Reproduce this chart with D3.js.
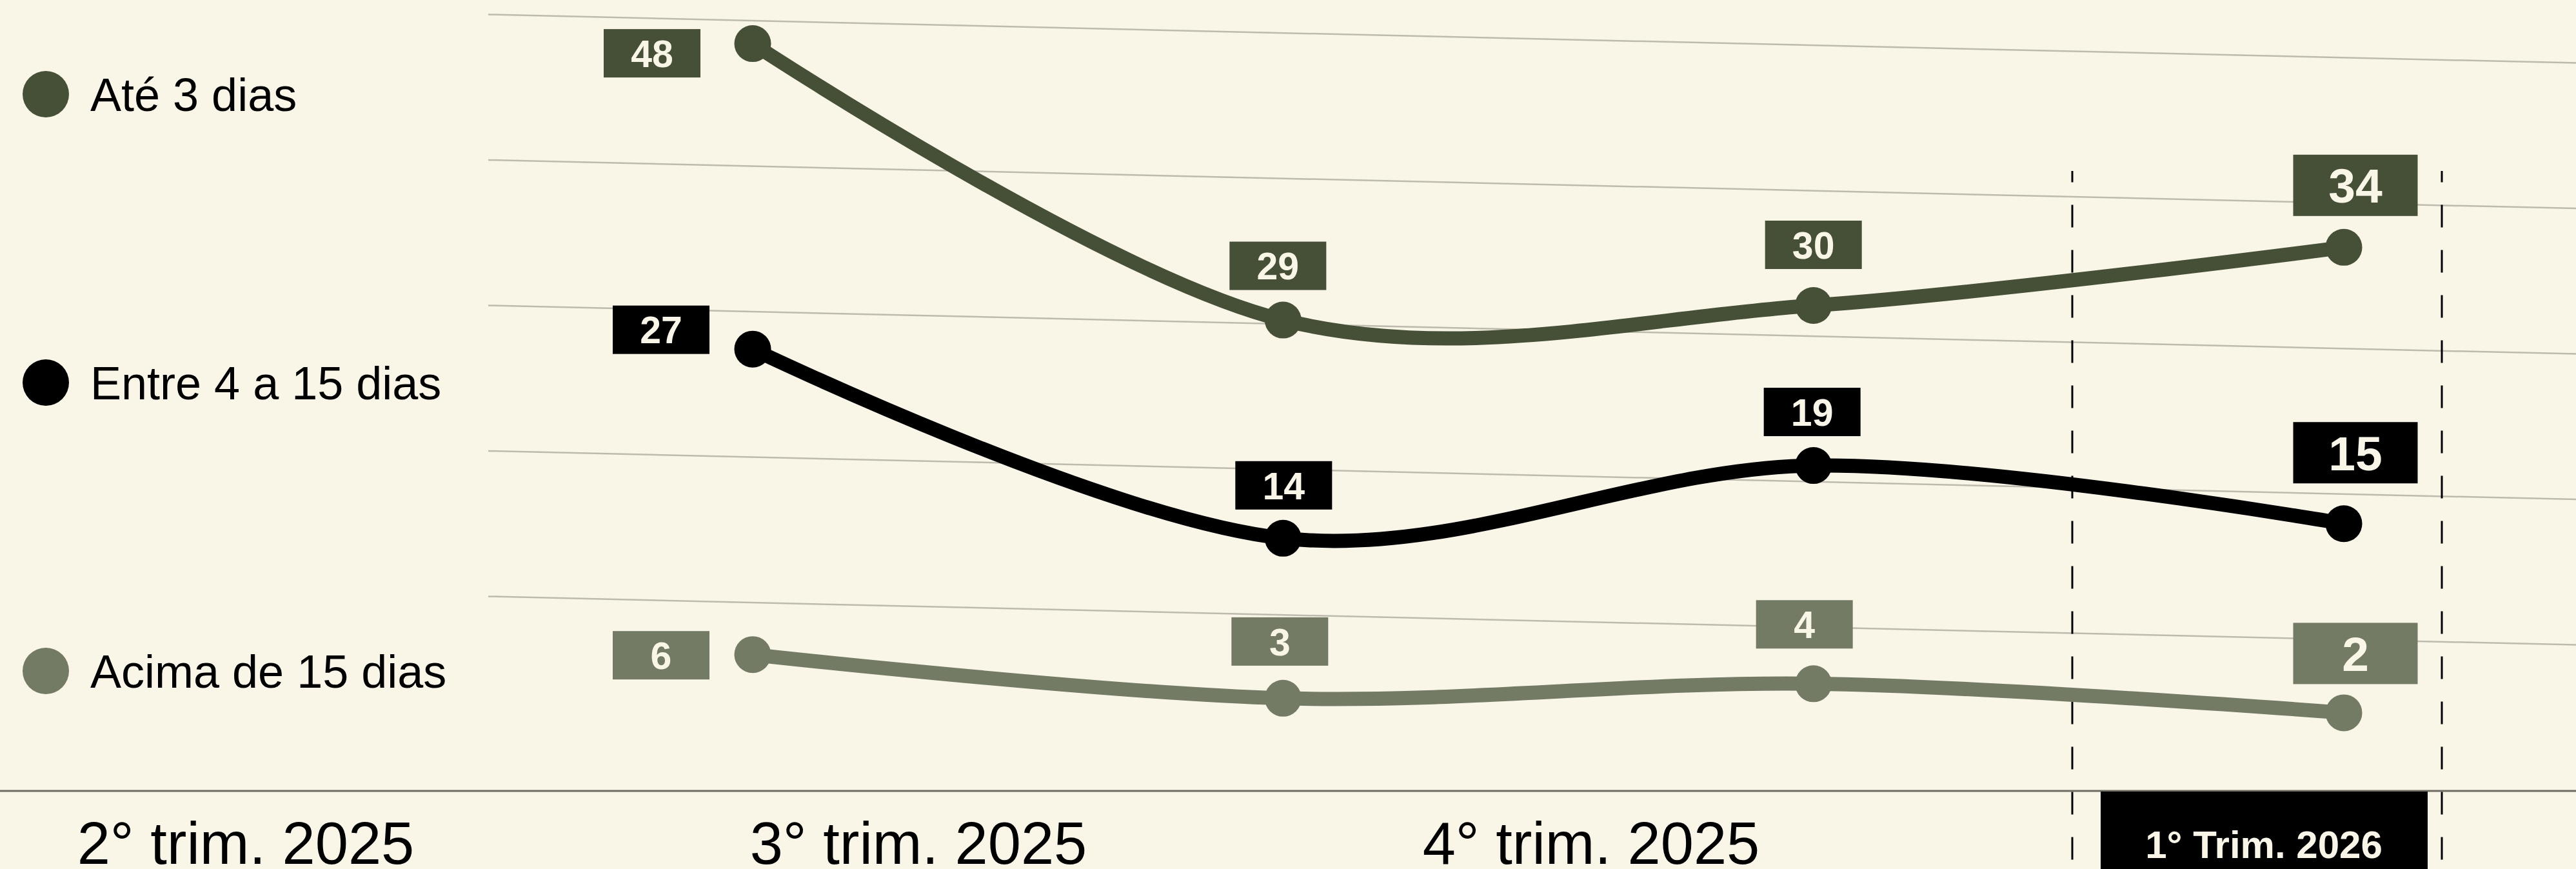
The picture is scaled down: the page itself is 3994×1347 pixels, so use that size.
<!DOCTYPE html>
<html lang="pt-BR">
<head>
    <meta charset="UTF-8">
    <title>Prazo por trimestre</title>
    <script src="https://d3js.org/d3.v7.min.js"></script>
    <style>
        body { margin: 0; background: #f9f6e8; }
        svg text { font-family: "Liberation Sans", Arial, sans-serif; }
    </style>
</head>
<body>
<svg id="main" width="3994" height="1347"></svg>
<script>
    // data
    const quarters = ['2° trim. 2025', '3° trim. 2025', '4° trim. 2025', '1° Trim. 2026'];
    const seriesNames = ['Até 3 dias', 'Entre 4 a 15 dias', 'Acima de 15 dias'];
    const ate3dias = [48, 29, 30, 34];
    const entre4a15 = [27, 14, 19, 15];
    const acima15 = [6, 3, 4, 2];
    const gridValues = [10, 20, 30, 40, 50];

    const colors = ['#465037', '#000000', '#737b65'];
    const bg = '#f9f6e8';

    // label nudges (box centre relative to the point), per series / column
    const labelDx = [[-156, -8, 0, 18], [-142, 1, -2, 18], [-142, -5, -14, 18]];
    const labelDy = [[15, -84, -94, -96], [-30, -82, -83, -110], [1, -88, -92, -92]];

    let svg = d3.select('svg#main');
    svg.append('rect').attr('width', 3994).attr('height', 1347).attr('fill', bg);

    let series = [ate3dias, entre4a15, acima15];

    //scales
    let x = d3.scaleLinear().domain([0, 3]).range([1167, 3634]);
    let xLabel = d3.scaleLinear().domain([0, 3]).range([381, 3510]);
    let y = d3.scaleLinear().domain([0, 50]).range([1150, 22.5]);
    let yLegend = d3.scalePoint().domain(seriesNames).range([146, 1040]);

    //slanted grid lines
    let gridX0 = 757, gridX1 = 3994, tilt = 0.0232;
    svg.append('g').selectAll('line')
        .data(gridValues)
        .enter().append('line')
        .attr('x1', gridX0)
        .attr('x2', gridX1)
        .attr('y1', d => y(d))
        .attr('y2', d => y(d) + tilt * (gridX1 - gridX0))
        .style('stroke', '#bdbaae')
        .style('stroke-width', '2.5px');

    // x axis line
    svg.append('line')
        .attr('x1', 0).attr('x2', 3994)
        .attr('y1', 1226).attr('y2', 1226)
        .style('stroke', '#6e6d62')
        .style('stroke-width', '3px');

    // highlighted last quarter (box + dashed band)
    let hx = xLabel(3);
    svg.append('rect')
        .attr('x', hx - 253).attr('y', 1227)
        .attr('width', 507).attr('height', 130)
        .attr('fill', '#000');
    [hx - 297, hx + 276].forEach(function (dx) {
        svg.append('line')
            .attr('x1', dx).attr('x2', dx)
            .attr('y1', 265).attr('y2', 1347)
            .style('stroke', '#000')
            .style('stroke-width', '3px')
            .style('stroke-dasharray', '35,35')
            .style('stroke-dashoffset', 17.5);
    });

    // x labels
    svg.append('g').selectAll('text')
        .data(quarters)
        .enter().append('text')
        .attr('x', (d, i) => xLabel(i))
        .attr('y', (d, i) => i === 3 ? 1330 : 1339)
        .attr('text-anchor', 'middle')
        .style('font-size', (d, i) => i === 3 ? '60px' : '92px')
        .style('font-weight', (d, i) => i === 3 ? 'bold' : 'normal')
        .style('fill', (d, i) => i === 3 ? bg : '#000')
        .text(d => d);

    //lines
    let line = d3.line()
        .x((d, i) => x(i))
        .y(d => y(d))
        .curve(d3.curveCardinal);

    let fig = svg.append('g');
    series.forEach(function (s, k) {
        fig.append('path')
            .attr('d', line(s))
            .style('fill', 'none')
            .style('stroke', colors[k])
            .style('stroke-width', '22px');
    });

    // points
    series.forEach(function (s, k) {
        fig.append('g').selectAll('circle')
            .data(s)
            .enter().append('circle')
            .attr('cx', (d, i) => x(i))
            .attr('cy', d => y(d))
            .attr('r', 28.5)
            .style('fill', colors[k]);
    });

    // value labels
    series.forEach(function (s, k) {
        let g = fig.append('g').selectAll('g')
            .data(s)
            .enter().append('g')
            .attr('transform', (d, i) => 'translate(' + (x(i) + labelDx[k][i]) + ',' + (y(d) + labelDy[k][i]) + ')');
        g.append('rect')
            .attr('x', (d, i) => i === 3 ? -96.5 : -75)
            .attr('y', (d, i) => i === 3 ? -47.5 : -37.5)
            .attr('width', (d, i) => i === 3 ? 193 : 150)
            .attr('height', (d, i) => i === 3 ? 95 : 75)
            .style('fill', colors[k]);
        g.append('text')
            .attr('text-anchor', 'middle')
            .attr('dy', '0.36em')
            .style('font-size', (d, i) => i === 3 ? '75px' : '59px')
            .style('font-weight', 'bold')
            .style('fill', bg)
            .text(d => d);
    });

    //legend
    let legend = svg.append('g').selectAll('g')
        .data(seriesNames)
        .enter().append('g')
        .attr('transform', d => 'translate(0,' + yLegend(d) + ')');
    legend.append('circle')
        .attr('cx', 71).attr('r', 36)
        .style('fill', (d, i) => colors[i]);
    legend.append('text')
        .attr('x', 140)
        .attr('dy', '0.36em')
        .style('font-size', '72px')
        .style('fill', '#000')
        .text(d => d);
</script>
</body>
</html>
